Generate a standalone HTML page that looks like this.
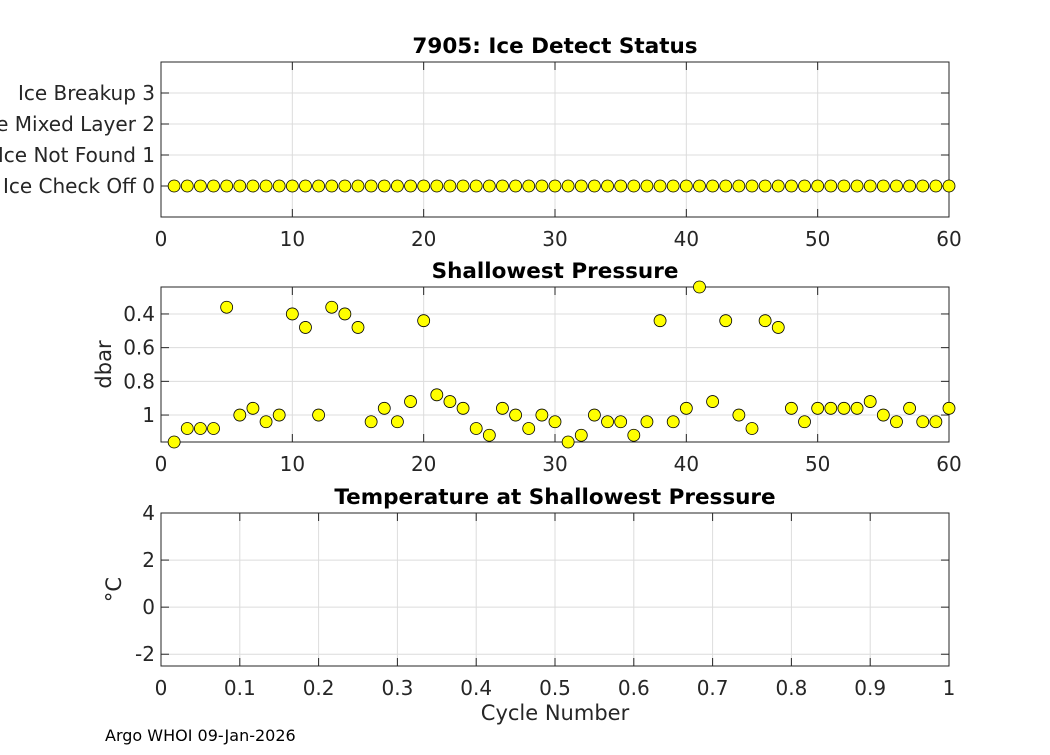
<!DOCTYPE html>
<html><head><meta charset="utf-8"><style>
body{margin:0;background:#fff;font-family:"Liberation Sans","DejaVu Sans",sans-serif}
svg text{font-family:"DejaVu Sans","Liberation Sans",sans-serif;fill:#262626}
</style></head><body>
<svg id="c" width="1050" height="750" viewBox="0 0 1050 750"></svg>
<script>
const cycles = Array.from({length:60},(_,i)=>i+1);
const iceStatus = [0,0,0,0,0,0,0,0,0,0,0,0,0,0,0,0,0,0,0,0,0,0,0,0,0,0,0,0,0,0,0,0,0,0,0,0,0,0,0,0,0,0,0,0,0,0,0,0,0,0,0,0,0,0,0,0,0,0,0,0];
const shallowPres = [1.16,1.08,1.08,1.08,0.36,1.0,0.96,1.04,1.0,0.40,0.48,1.0,0.36,0.40,0.48,1.04,0.96,1.04,0.92,0.44,0.88,0.92,0.96,1.08,1.12,0.96,1.0,1.08,1.0,1.04,1.16,1.12,1.0,1.04,1.04,1.12,1.04,0.44,1.04,0.96,0.24,0.92,0.44,1.0,1.08,0.44,0.48,0.96,1.04,0.96,0.96,0.96,0.96,0.92,1.0,1.04,0.96,1.04,1.04,0.96];
const xTicks60 = [0,10,20,30,40,50,60];
const iceTicks = [0,1,2,3];
const iceLabels = ["Ice Check Off 0","Ice Not Found 1","Ice Mixed Layer 2","Ice Breakup 3"];
const presTicks = [0.4,0.6,0.8,1];
const presLabels = ["0.4","0.6","0.8","1"];
const tempTicks = [-2,0,2,4];
const fracTicks = [0,0.1,0.2,0.3,0.4,0.5,0.6,0.7,0.8,0.9,1];

const svg=document.getElementById('c');const NS='http://www.w3.org/2000/svg';
function el(t,a,txt){const e=document.createElementNS(NS,t);for(const k in a)e.setAttribute(k,a[k]);if(txt!==undefined)e.textContent=txt;svg.appendChild(e);return e;}
const L=161,R=949;
function panel(name,top,bot,xmin,xmax,ymin,ymax,rev,xt,xl,yt,yl,title,ylabel,ylx){
  const sx=v=>L+(v-xmin)/(xmax-xmin)*(R-L);
  const sy=v=>rev?top+(v-ymin)/(ymax-ymin)*(bot-top):bot-(v-ymin)/(ymax-ymin)*(bot-top);
  xt.forEach((v,i)=>{const x=sx(v);
    const g=el('line',{x1:x,x2:x,y1:top,y2:bot,stroke:'#dcdcdc','stroke-width':1});
    const t=el('line',{x1:x,x2:x,y1:bot,y2:bot-8,stroke:'#262626'});
    const t2=el('line',{x1:x,x2:x,y1:top,y2:top+8,stroke:'#262626'});
    const lb=el('text',{x:x,y:bot+29,'text-anchor':'middle','font-size':20},xl[i]);});
  yt.forEach((v,i)=>{const y=sy(v);
    const g=el('line',{x1:L,x2:R,y1:y,y2:y,stroke:'#dcdcdc','stroke-width':1});
    const t=el('line',{x1:L,x2:L+8,y1:y,y2:y,stroke:'#262626'});
    const t2=el('line',{x1:R,x2:R-8,y1:y,y2:y,stroke:'#262626'});
    const lb=el('text',{x:L-6,y:y+7,'text-anchor':'end','font-size':20},yl[i]);});
  const b=el('rect',{x:L,y:top,width:R-L,height:bot-top,fill:'none',stroke:'#262626','stroke-width':1});
  const ti=el('text',{x:(L+R)/2,y:top-9,'text-anchor':'middle','font-size':21.5,'font-weight':'bold',style:'fill:#000'},title);
  if(ylabel){const yla=el('text',{x:0,y:0,'text-anchor':'middle','font-size':21,transform:`translate(${ylx},${(top+bot)/2}) rotate(-90)`},ylabel);}
  return {sx,sy};
}
const p1=panel('ice-status',62,217,0,60,-1,4,false,xTicks60,xTicks60.map(String),iceTicks,iceLabels,'7905: Ice Detect Status',null,0);
const p2=panel('shallowest-pressure',287,442,0,60,0.24,1.16,true,xTicks60,xTicks60.map(String),presTicks,presLabels,'Shallowest Pressure','dbar',111);
const p3=panel('temperature',513,666,0,1,-2.5,4,false,fracTicks,fracTicks.map(String),tempTicks,tempTicks.map(String),'Temperature at Shallowest Pressure','°C',121);
cycles.forEach((c,i)=>{
  const m=el('circle',{cx:p1.sx(c),cy:p1.sy(iceStatus[i]),r:6,fill:'#ffff00',stroke:'#000','stroke-width':0.8});
  
  
});
cycles.forEach((c,i)=>{
  const m=el('circle',{cx:p2.sx(c),cy:p2.sy(shallowPres[i]),r:6,fill:'#ffff00',stroke:'#000','stroke-width':0.8});
  
  
});
const xl=el('text',{x:(L+R)/2,y:720,'text-anchor':'middle','font-size':21},'Cycle Number');
const ft=el('text',{x:105,y:741,'font-size':16,style:'fill:#000'},'Argo WHOI 09-Jan-2026');
</script>
</body></html>
